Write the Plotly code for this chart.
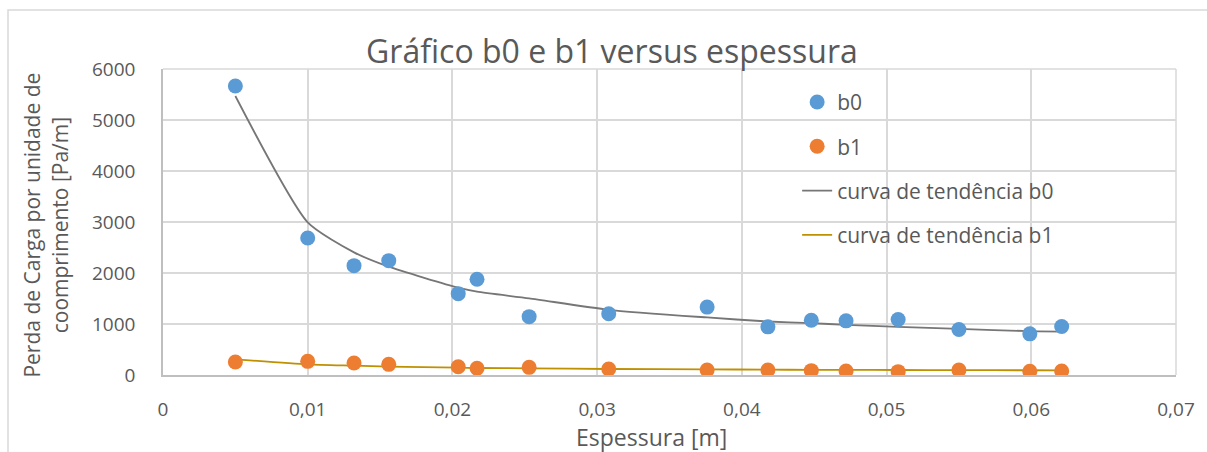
import plotly.graph_objects as go

# Thickness [m] and pressure loss per unit length [Pa/m]
espessura = [0.0050, 0.0100, 0.0132, 0.0156, 0.0204, 0.0217, 0.0253, 0.0308,
             0.0376, 0.0418, 0.0448, 0.0472, 0.0508, 0.0550, 0.0599, 0.0621]
b0 = [5667, 2686, 2144, 2242, 1595, 1876, 1144, 1200,
      1331, 944, 1075, 1062, 1089, 892, 807, 951]
b1 = [255, 268, 235, 209, 163, 131, 150, 118,
      98, 98, 85, 79, 66, 98, 72, 79]

# Trend curves evaluated at the same thickness values
tend_b0 = [5470, 2993, 2405, 2124, 1712, 1634, 1503, 1279,
           1128, 1049, 1016, 984, 944, 905, 859, 852]
tend_b1 = [307, 209, 183, 163, 144, 137, 131, 118,
           111, 105, 102, 100, 98, 95, 93, 92]

x_ticks = [0, 0.01, 0.02, 0.03, 0.04, 0.05, 0.06, 0.07]
x_labels = ["0", "0,01", "0,02", "0,03", "0,04", "0,05", "0,06", "0,07"]
y_ticks = [0, 1000, 2000, 3000, 4000, 5000, 6000]

FONT = "Open Sans"
TXT = "#595959"
GRID = "#D9D9D9"

fig = go.Figure()
fig.add_trace(go.Scatter(x=espessura, y=tend_b0, mode="lines", name="curva de tendência b0",
                         line=dict(color="#767676", width=1.8, shape="spline", smoothing=0.6),
                         legendrank=3, legendgroup="c"))
fig.add_trace(go.Scatter(x=espessura, y=tend_b1, mode="lines", name="curva de tendência b1",
                         line=dict(color="#BF9000", width=1.8, shape="spline", smoothing=0.6),
                         legendrank=4, legendgroup="d"))
fig.add_trace(go.Scatter(x=espessura, y=b0, mode="markers", name="b0",
                         marker=dict(color="#5B9BD5", size=15), legendrank=1, legendgroup="a"))
fig.add_trace(go.Scatter(x=espessura, y=b1, mode="markers", name="b1",
                         marker=dict(color="#ED7D31", size=15), legendrank=2, legendgroup="b"))

fig.update_layout(
    width=1207, height=452,
    margin=dict(l=163, r=31, t=69, b=77),
    paper_bgcolor="white", plot_bgcolor="white",
    font=dict(family=FONT, color=TXT, size=18),
    title=dict(text="Gráfico b0 e b1 versus espessura", x=0.507, xanchor="center",
               y=0.885, yanchor="middle", font=dict(size=32, color=TXT, family=FONT)),
    legend=dict(x=0.626, y=0.958, xanchor="left", yanchor="top", bgcolor="rgba(0,0,0,0)",
                font=dict(size=21, color=TXT, family=FONT), tracegroupgap=14,
                traceorder="grouped"),
    showlegend=True,
)
fig.update_xaxes(range=[0, 0.07], tickvals=x_ticks, ticktext=x_labels,
                 showgrid=True, gridcolor=GRID, gridwidth=1.5,
                 showline=True, linecolor="#BFBFBF", linewidth=1.5, mirror=False,
                 zeroline=False, ticks="", ticklabelstandoff=16, automargin=False,
                 tickfont=dict(size=19))
fig.update_yaxes(range=[0, 6000], tickvals=y_ticks,
                 showgrid=True, gridcolor=GRID, gridwidth=1.5,
                 showline=True, linecolor="#BFBFBF", linewidth=1.5,
                 zeroline=False, ticks="", ticklabelstandoff=22, automargin=False,
                 tickfont=dict(size=19))

# Right and top edges of the plotting area
fig.add_shape(type="line", xref="paper", yref="paper", x0=1, x1=1, y0=0, y1=1,
              line=dict(color=GRID, width=1.5))
fig.add_shape(type="line", xref="paper", yref="paper", x0=0, x1=1, y0=1, y1=1,
              line=dict(color=GRID, width=1.5))
# Chart frame
fig.add_shape(type="rect", xref="paper", yref="paper", x0=-0.153, x1=1.2, y0=-0.5, y1=1.193,
              line=dict(color=GRID, width=1.5), layer="below")

# Axis titles
fig.add_annotation(text="Espessura [m]", xref="paper", yref="paper",
                   x=0.482, y=-0.203, showarrow=False,
                   font=dict(size=23, color=TXT, family=FONT),
                   xanchor="center", yanchor="middle")
fig.add_annotation(text="Perda de Carga por unidade de<br>coomprimento [Pa/m]",
                   xref="paper", yref="paper", x=-0.116, y=0.49, textangle=-90,
                   showarrow=False, font=dict(size=21, color=TXT, family=FONT),
                   xanchor="center", yanchor="middle")

fig.write_html("out.html")
